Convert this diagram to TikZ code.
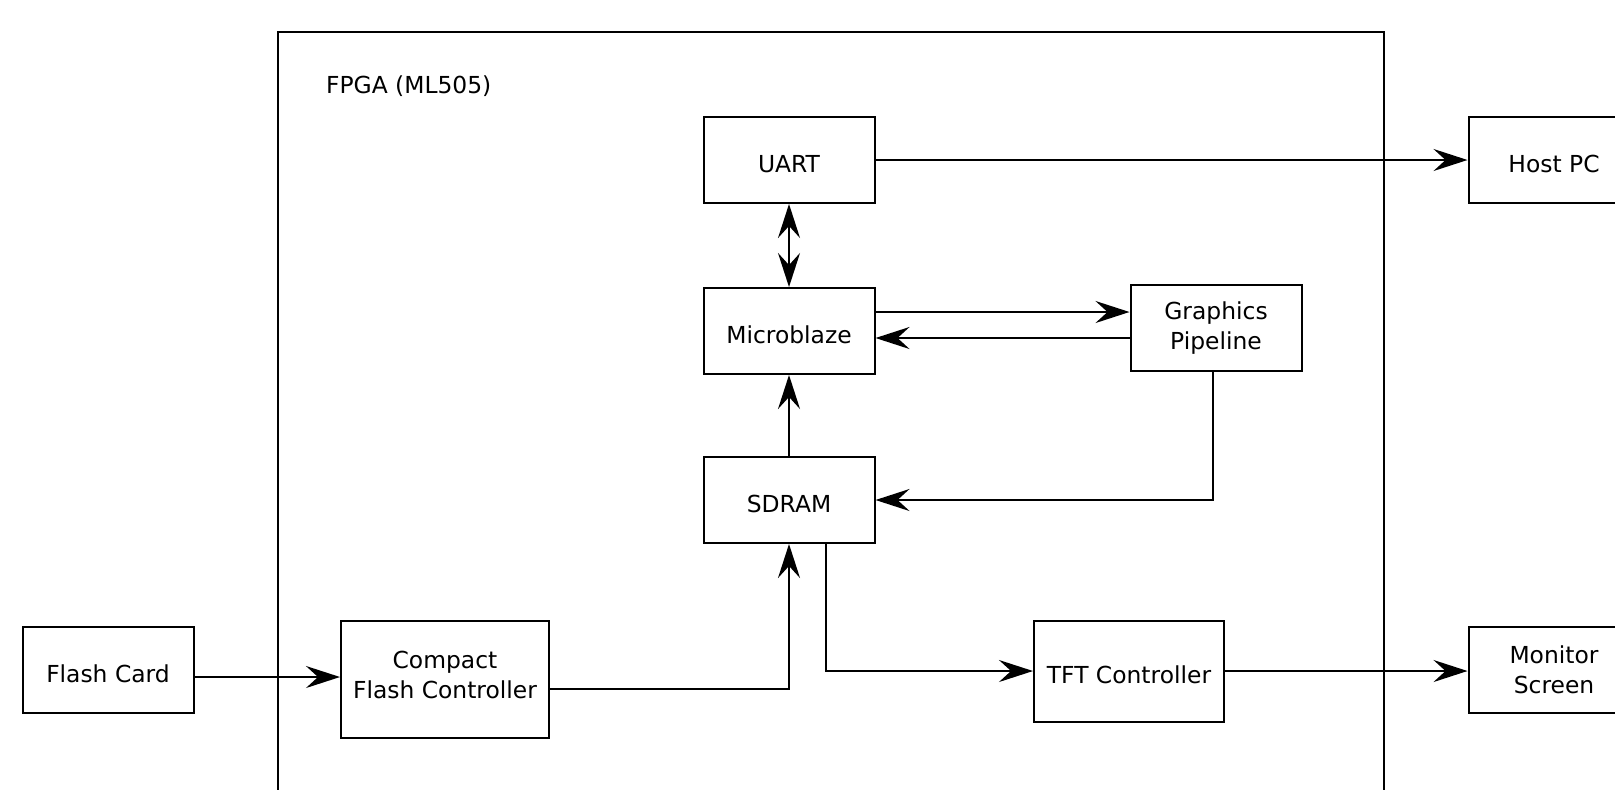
\documentclass[tikz,border=0pt]{standalone}
\usepackage{fontspec}
\setmainfont{DejaVu Sans}
\usetikzlibrary{arrows.meta}

\begin{document}
\begin{tikzpicture}[
                x=0.5pt,
                y=-0.5pt,
                line cap=round,
                font=\fontsize{11.7}{15}\selectfont,
                block/.style={draw, line width=1pt, inner sep=0pt, align=center,
                    minimum width=85.5pt, minimum height=43pt},
                oneline/.style={text height=12.6pt, text depth=0pt},
                link/.style={line width=1pt, -{Stealth[length=17pt, width=11pt, inset=6pt]}},
                duplex/.style={line width=1pt,
                    {Stealth[length=17pt, width=11pt, inset=6pt]}-{Stealth[length=17pt, width=11pt, inset=6pt]}}
            ]
            % Picture area
            \useasboundingbox (0,0) rectangle (1615,789);
            \clip (0,0) rectangle (1615,789);

            % FPGA board outline
            \draw[line width=0.8pt] (278,32) rectangle (1384,840);
            \node[anchor=west] (fpgalabel) at (319,86) {FPGA (ML505)};

            % Blocks inside the FPGA
            \node[block, oneline] (uart) at (789,160) {UART};
            \node[block, oneline] (mblaze) at (789,331) {Microblaze};
            \node[block, oneline] (sdram) at (789,500) {SDRAM};
            \node[block] (gfx) at (1216,328) {Graphics\\Pipeline};
            \node[block, text depth=4pt, minimum width=104pt, minimum height=58.5pt] (cfc) at (445,679) {Compact\\Flash Controller};
            \node[block, oneline, minimum width=95pt, minimum height=50.5pt] (tft) at (1129,671) {TFT Controller};

            % Devices outside the FPGA
            \node[block, oneline] (flash) at (108,670) {Flash Card};
            \node[block, oneline] (host) at (1554,160) {Host PC};
            \node[block] (monitor) at (1554,670) {Monitor\\Screen};

            % Connections
            \draw[link] (uart.east) -- (host.west);
            \draw[duplex] (uart.south) -- (mblaze.north);
            \draw[link] ([yshift=9.5pt]mblaze.east) -- ([yshift=9.5pt]mblaze.east -| gfx.west);
            \draw[link] ([yshift=-5pt]gfx.west) -- ([yshift=-5pt]gfx.west -| mblaze.east);
            \draw[link] (sdram.north) -- (mblaze.south);
            \draw[link] ([xshift=-1.5pt]gfx.south) |- (sdram.east);
            \draw[link] ([yshift=-5pt]cfc.east) -| (sdram.south);
            \draw[link] ([xshift=18.5pt]sdram.south) |- (tft.west);
            \draw[link] ([yshift=-3.5pt]flash.east) -- ([yshift=-3.5pt]flash.east -| cfc.west);
            \draw[link] (tft.east) -- (tft.east -| monitor.west);
        \end{tikzpicture}
\end{document}
